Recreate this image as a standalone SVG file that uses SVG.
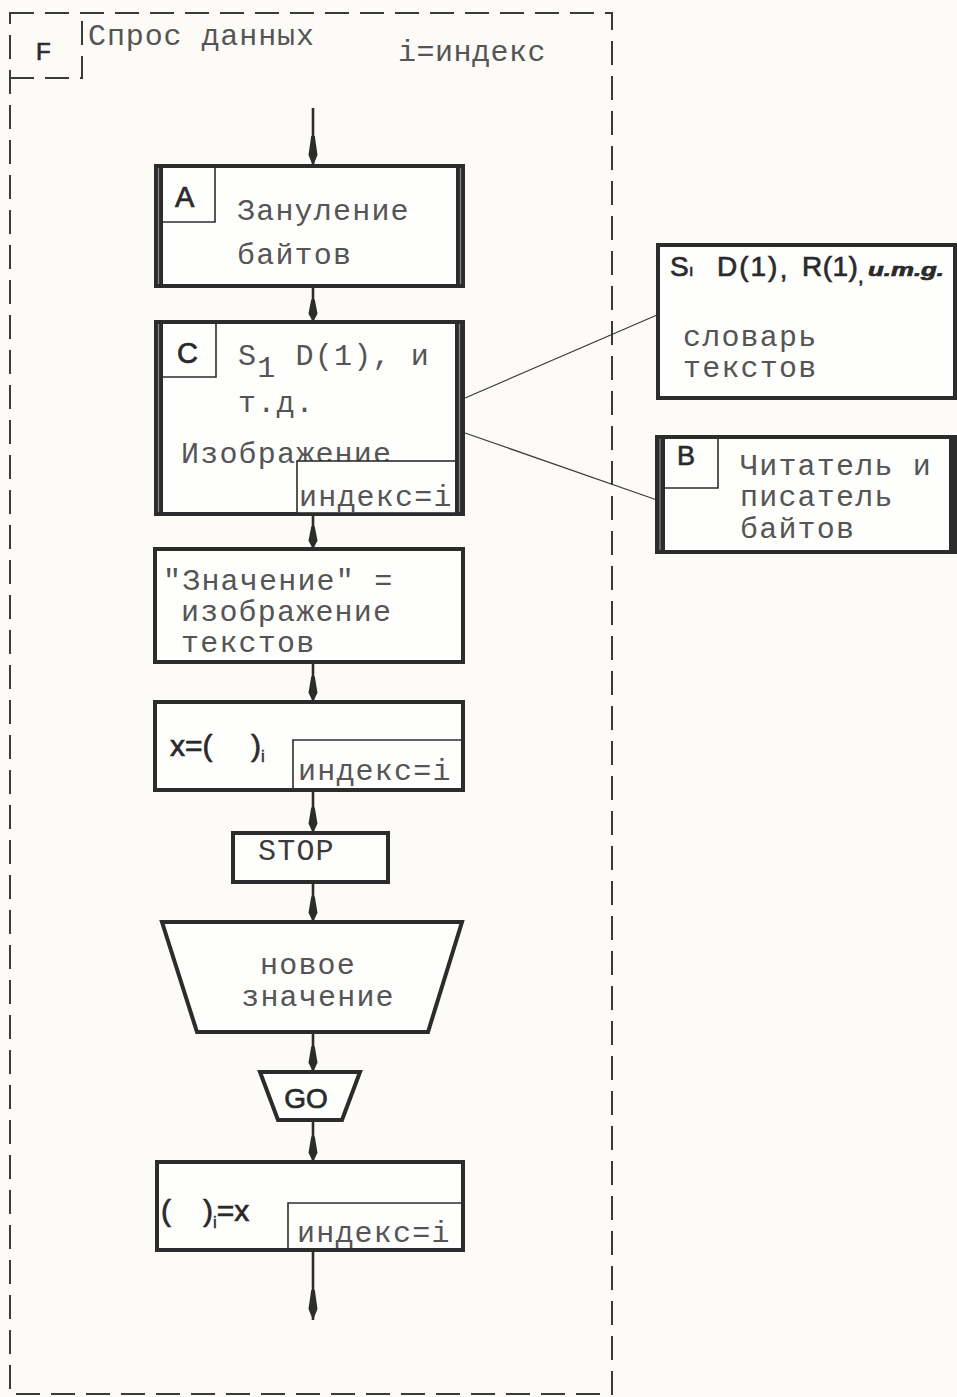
<svg xmlns="http://www.w3.org/2000/svg" xmlns:xlink="http://www.w3.org/1999/xlink" width="957" height="1397" viewBox="0 0 957 1397">
<style>
.bg{fill:#fcfbf7}
.frame{fill:none;stroke:#3a3a3a;stroke-width:2;stroke-dasharray:24 11}
.box{fill:#fefefd;stroke:#2c2c2c;stroke-width:4}
.thin{fill:#fefefd;stroke:#2c2c2c;stroke-width:1.6}
.tag{fill:none;stroke:#2c2c2c;stroke-width:1.6}
.bar{fill:#2c2c2c}
.barline{stroke:#8a8a8a;stroke-width:1.2}
.conn{fill:none;stroke:#2c2c2c;stroke-width:2.6}
.link{fill:none;stroke:#3a3a3a;stroke-width:1.2}
.head{fill:#2c2c2c}
.mono{font-family:"Liberation Mono","DejaVu Sans Mono",monospace;font-size:30px;letter-spacing:1.2px;fill:#555555}
.sans{font-family:"Liberation Sans","DejaVu Sans",sans-serif;fill:#2a2a2a;stroke:#2a2a2a;stroke-width:0.7px}
</style>
<defs>
<path id="ah" d="M0,0 L-4.5,-11 L-1.8,-30 L1.8,-30 L4.5,-11 Z"/>
</defs>
<rect class="bg" x="0" y="0" width="957" height="1397"/>

<g id="frame">
<rect class="frame" x="10" y="13" width="602" height="1381"/>
<path class="frame" d="M10,78 H82 V13"/>
<text class="sans" x="36" y="60" font-size="24">F</text>
<text class="mono" x="88" y="45" style="letter-spacing:0.9px">Спрос данных</text>
<text class="mono" x="398" y="61" style="letter-spacing:0.5px">i=индекс</text>
</g>

<g id="connectors">
<line class="conn" x1="313" y1="108" x2="313" y2="166"/>
<use href="#ah" class="head" x="313" y="166"/>
<line class="conn" x1="313" y1="286" x2="313" y2="322"/>
<use href="#ah" class="head" transform="translate(313,322) scale(1,0.75)"/>
<line class="conn" x1="313" y1="515" x2="313" y2="549"/>
<use href="#ah" class="head" transform="translate(313,549) scale(1,0.75)"/>
<line class="conn" x1="313" y1="662" x2="313" y2="702"/>
<use href="#ah" class="head" transform="translate(313,702) scale(1,0.85)"/>
<line class="conn" x1="313" y1="790" x2="313" y2="833"/>
<use href="#ah" class="head" transform="translate(313,833) scale(1,0.85)"/>
<line class="conn" x1="313" y1="882" x2="313" y2="922"/>
<use href="#ah" class="head" transform="translate(313,922) scale(1,0.85)"/>
<line class="conn" x1="313" y1="1032" x2="313" y2="1072"/>
<use href="#ah" class="head" transform="translate(313,1072) scale(1,0.85)"/>
<line class="conn" x1="313" y1="1120" x2="313" y2="1162"/>
<use href="#ah" class="head" transform="translate(313,1162) scale(1,0.85)"/>
<line class="conn" x1="313" y1="1250" x2="313" y2="1320"/>
<use href="#ah" class="head" x="313" y="1320"/>
<line class="link" x1="465" y1="398" x2="657" y2="315"/>
<line class="link" x1="465" y1="433" x2="657" y2="500"/>
</g>

<g id="nodeA">
<rect class="box" x="157" y="166" width="306" height="120"/>
<rect class="bar" x="154" y="164" width="9" height="124"/>
<rect class="bar" x="456" y="164" width="9" height="124"/>
<line class="barline" x1="158.5" y1="168" x2="158.5" y2="284"/>
<line class="barline" x1="460.5" y1="168" x2="460.5" y2="284"/>
<path class="tag" d="M162,222 H215 V168"/>
<text class="sans" x="175" y="207" font-size="29">A</text>
<text class="mono" x="237" y="220">Зануление</text>
<text class="mono" x="237" y="264">байтов</text>
</g>

<g id="nodeC">
<rect class="box" x="157" y="322" width="306" height="192"/>
<text class="sans" x="177" y="363" font-size="29">C</text>
<text class="mono" x="238" y="365">S<tspan dy="12">1</tspan><tspan dy="-12"> D(1), и</tspan></text>
<text class="mono" x="238" y="412">т.д.</text>
<text class="mono" x="181" y="463">Изображение</text>
<rect class="thin" x="297" y="461" width="164" height="52"/>
<text class="mono" x="299" y="506">индекс=i</text>
<rect class="bar" x="154" y="320" width="9" height="196"/>
<rect class="bar" x="455" y="320" width="9" height="196"/>
<line class="barline" x1="158.5" y1="324" x2="158.5" y2="512"/>
<line class="barline" x1="459.5" y1="324" x2="459.5" y2="512"/>
<path class="tag" d="M163,377 H216 V324"/>
</g>

<g id="nodeS">
<rect class="box" x="658" y="245" width="297" height="153"/>
<text class="sans" x="670" y="276" font-size="28">S</text>
<text class="sans" x="689" y="276" font-size="16">ı</text>
<text class="sans" x="717" y="276" font-size="28" style="letter-spacing:2px">D(1)</text>
<text class="sans" x="780" y="278" font-size="26">,</text>
<text class="sans" x="802" y="276" font-size="28" style="letter-spacing:0.5px">R(1)</text>
<text class="sans" x="858" y="283" font-size="20">,</text>
<text class="sans" x="868" y="276" font-size="18" font-weight="bold" font-style="italic" textLength="76" lengthAdjust="spacingAndGlyphs">u.m.g.</text>
<text class="mono" x="683" y="346">словарь</text>
<text class="mono" x="683" y="377">текстов</text>
</g>

<g id="nodeB">
<rect class="box" x="658" y="437" width="296" height="115"/>
<rect class="bar" x="655" y="435" width="10" height="119"/>
<rect class="bar" x="949" y="435" width="8" height="119"/>
<line class="barline" x1="660" y1="439" x2="660" y2="550"/>
<path class="tag" d="M665,488 H718 V439"/>
<text class="sans" x="677" y="465" font-size="27">B</text>
<text class="mono" x="740" y="475">Читатель и</text>
<text class="mono" x="740" y="506">писатель</text>
<text class="mono" x="740" y="538">байтов</text>
</g>

<g id="nodeValue">
<rect class="box" x="155" y="549" width="308" height="113"/>
<text class="mono" x="163" y="590">"Значение" =</text>
<text class="mono" x="181" y="621">изображение</text>
<text class="mono" x="181" y="652">текстов</text>
</g>

<g id="nodeX">
<rect class="box" x="155" y="702" width="308" height="88"/>
<path class="tag" d="M293,788 V740 H461"/>
<text class="sans" x="170" y="756" font-size="30">x=(</text>
<text class="sans" x="251" y="756" font-size="30">)<tspan font-size="17" dy="6" stroke-width="0.4">i</tspan></text>
<text class="mono" x="298" y="780">индекс=i</text>
</g>

<g id="nodeStop">
<rect class="box" x="233" y="833" width="155" height="49"/>
<text class="mono" x="258" y="860" font-size="31" style="fill:#3a3a3a">STOP</text>
</g>

<g id="nodeNew">
<polygon class="box" points="162,922 462,922 428,1032 197,1032"/>
<text class="mono" x="308" y="974" text-anchor="middle">новое</text>
<text class="mono" x="318" y="1006" text-anchor="middle">значение</text>
</g>

<g id="nodeGo">
<polygon class="box" points="260,1072 360,1072 342,1120 278,1120"/>
<text class="sans" x="306" y="1108" font-size="28" text-anchor="middle">GO</text>
</g>

<g id="nodeAssign">
<rect class="box" x="157" y="1162" width="306" height="88"/>
<path class="tag" d="M288,1248 V1203 H461"/>
<text class="sans" x="161" y="1221" font-size="30">(</text>
<text class="sans" x="203" y="1221" font-size="30">)<tspan font-size="17" dy="7" stroke-width="0.4">i</tspan><tspan dy="-7">=x</tspan></text>
<text class="mono" x="297" y="1242">индекс=i</text>
</g>
</svg>
